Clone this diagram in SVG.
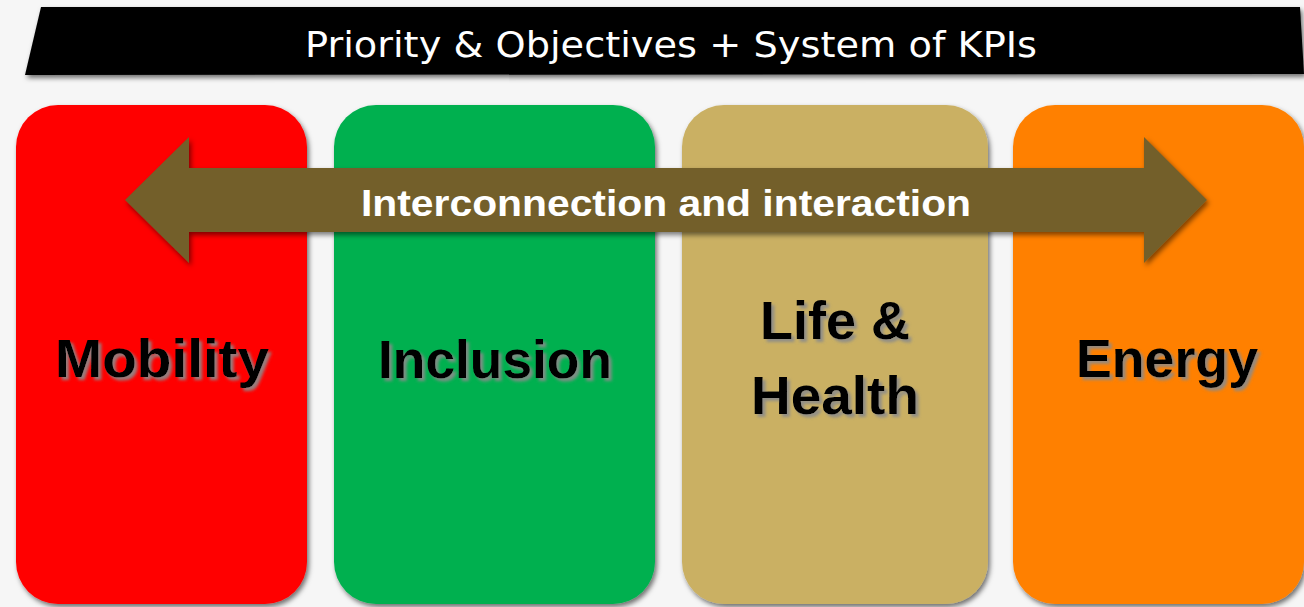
<svg xmlns="http://www.w3.org/2000/svg" width="1304" height="607" viewBox="0 0 1304 607">
  <style>
    .box { filter: url(#boxShadow); }
    .label { font-family: "Liberation Sans", Arial, sans-serif; font-weight: bold; font-size: 54px; fill: #000; text-anchor: middle; filter: url(#textShadow); }
    .title { font-family: "DejaVu Sans", "Liberation Sans", sans-serif; font-size: 36px; fill: #fff; text-anchor: middle; }
    .arrowText { font-family: "Liberation Sans", Arial, sans-serif; font-weight: bold; font-size: 37px; fill: #fff; text-anchor: middle; }
  </style>
  <defs>
    <filter id="boxShadow" x="-10%" y="-10%" width="125%" height="125%">
      <feDropShadow dx="2" dy="3" stdDeviation="2.5" flood-color="#000" flood-opacity="0.55"/>
    </filter>
    <filter id="textShadow" x="-10%" y="-20%" width="125%" height="150%">
      <feDropShadow dx="3" dy="3" stdDeviation="1.5" flood-color="#8a8a8a" flood-opacity="0.9"/>
    </filter>
    <filter id="arrowShadow" x="-5%" y="-20%" width="110%" height="150%">
      <feDropShadow dx="2" dy="3" stdDeviation="2.5" flood-color="#000" flood-opacity="0.5"/>
    </filter>
  </defs>

  <!-- background -->
  <rect width="1304" height="607" fill="#f6f6f6"/>

  <!-- title banner -->
  <g id="banner">
    <polygon points="41,7 1300,7 1304,74 25,75" fill="#060606" filter="url(#boxShadow)"/>
    <text class="title" x="671" y="57" textLength="732" lengthAdjust="spacingAndGlyphs">Priority &amp; Objectives + System of KPIs</text>
  </g>

  <!-- category columns -->
  <g id="mobility">
    <rect class="box" x="16" y="105" width="291" height="499" rx="42" fill="#ff0000"/>
    <text class="label" x="162" y="377" textLength="214" lengthAdjust="spacingAndGlyphs">Mobility</text>
  </g>
  <g id="inclusion">
    <rect class="box" x="334" y="105" width="321" height="499" rx="42" fill="#00b050"/>
    <text class="label" x="495" y="378" textLength="234" lengthAdjust="spacingAndGlyphs">Inclusion</text>
  </g>
  <g id="life-health">
    <rect class="box" x="682" y="105" width="306" height="499" rx="42" fill="#cab063"/>
    <text class="label" x="835" y="339" textLength="150" lengthAdjust="spacingAndGlyphs">Life &amp;</text>
    <text class="label" x="835" y="414" textLength="168" lengthAdjust="spacingAndGlyphs">Health</text>
  </g>
  <g id="energy">
    <rect class="box" x="1013" y="105" width="291" height="499" rx="42" fill="#ff8000"/>
    <text class="label" x="1167" y="377" textLength="182" lengthAdjust="spacingAndGlyphs">Energy</text>
  </g>

  <!-- two-way connector across the columns -->
  <g id="connectors">
    <polygon points="125,200 189,137 189,168 1144,168 1144,137 1207,200 1144,263 1144,232 189,232 189,263" fill="#735e29" filter="url(#arrowShadow)"/>
    <text class="arrowText" x="666" y="216" textLength="610" lengthAdjust="spacingAndGlyphs">Interconnection and interaction</text>
  </g>
</svg>
